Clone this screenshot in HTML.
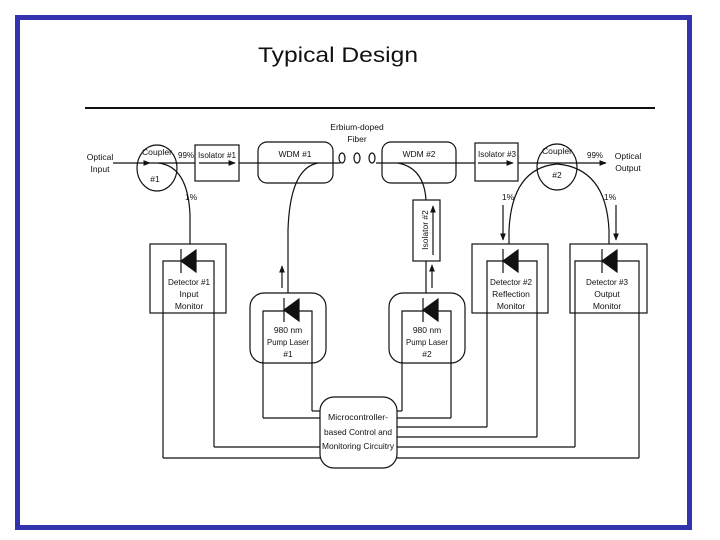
<!DOCTYPE html>
<html><head><meta charset="utf-8"><style>
html,body{margin:0;padding:0;background:#fff;width:720px;height:540px;overflow:hidden}
svg{display:block}
text{font-family:"Liberation Sans",sans-serif;fill:#111}
</style></head><body>
<svg width="720" height="540" viewBox="0 0 720 540" xmlns="http://www.w3.org/2000/svg">
<defs>
<marker id="ah" viewBox="0 0 10 10" refX="9" refY="5" markerWidth="6" markerHeight="6" orient="auto"><path d="M0,1 L10,5 L0,9 z" fill="#111"/></marker>
</defs>
<rect x="17.5" y="17.5" width="672" height="510" fill="none" stroke="#3333b0" stroke-width="5"/>
<text x="338" y="62" font-size="21" text-anchor="middle" textLength="160" lengthAdjust="spacingAndGlyphs">Typical Design</text>
<line x1="85" y1="108" x2="655" y2="108" stroke="#111" stroke-width="2"/>
<g stroke="#111" fill="none" stroke-width="1.2">
<line x1="113" y1="163" x2="150" y2="163" marker-end="url(#ah)"/>
<line x1="150" y1="163" x2="340" y2="163"/>
<line x1="376" y1="163" x2="606" y2="163" marker-end="url(#ah)"/>
<ellipse cx="157" cy="168" rx="20" ry="23"/>
<path d="M158,163 Q188,166 190,215 L190,244"/>
<rect x="195" y="145" width="44" height="36" fill="#fff"/>
<line x1="199" y1="163" x2="235" y2="163" marker-end="url(#ah)"/>
<rect x="258" y="142" width="75" height="41" rx="9"/>
<path d="M318,163 Q290,168 288,230 L288,293"/>
<line x1="282" y1="288" x2="282" y2="266" marker-end="url(#ah)"/>
<ellipse cx="342" cy="158" rx="3" ry="5"/>
<ellipse cx="357" cy="158" rx="3" ry="5"/>
<ellipse cx="372" cy="158" rx="3" ry="5"/>
<rect x="382" y="142" width="74" height="41" rx="9"/>
<path d="M398,163 Q424,168 426,200"/>
<rect x="413" y="200" width="27" height="61"/>
<line x1="433" y1="255" x2="433" y2="206" marker-end="url(#ah)"/>
<line x1="426" y1="261" x2="426" y2="293"/>
<line x1="432" y1="288" x2="432" y2="265" marker-end="url(#ah)"/>
<rect x="475" y="143" width="43" height="38" fill="#fff"/>
<line x1="478" y1="163" x2="513" y2="163" marker-end="url(#ah)"/>
<ellipse cx="557" cy="167" rx="20" ry="23"/>
<path d="M557,164 Q512,168 509,230 L509,244"/>
<path d="M557,164 Q606,168 609,230 L609,244"/>
<line x1="503" y1="205" x2="503" y2="240" marker-end="url(#ah)"/>
<line x1="616" y1="205" x2="616" y2="240" marker-end="url(#ah)"/>
<rect x="150" y="244" width="76" height="69"/>
<polyline points="163,458 163,261 214,261 214,447"/>
<rect x="472" y="244" width="76" height="69"/>
<polyline points="487,427 487,261 537,261 537,437"/>
<rect x="570" y="244" width="77" height="69"/>
<polyline points="575,447 575,261 639,261 639,458"/>
<rect x="250" y="293" width="76" height="70" rx="14"/>
<polyline points="263,418 263,311 312,311 312,411"/>
<rect x="389" y="293" width="76" height="70" rx="14"/>
<polyline points="402,411 402,311 451,311 451,418"/>
<rect x="320" y="397" width="77" height="71" rx="14" fill="#fff"/>
<line x1="163" y1="458" x2="320" y2="458"/>
<line x1="214" y1="447" x2="320" y2="447"/>
<line x1="263" y1="418" x2="320" y2="418"/>
<line x1="312" y1="411" x2="320" y2="411"/>
<line x1="402" y1="411" x2="397" y2="411"/>
<line x1="451" y1="418" x2="397" y2="418"/>
<line x1="487" y1="427" x2="397" y2="427"/>
<line x1="537" y1="437" x2="397" y2="437"/>
<line x1="575" y1="447" x2="397" y2="447"/>
<line x1="639" y1="458" x2="397" y2="458"/>
</g>
<g fill="#111" stroke="#111" stroke-width="1.2">
<path d="M196,250 L196,272 L181,261 z"/><line x1="181" y1="249" x2="181" y2="273"/>
<path d="M518,250 L518,272 L503,261 z"/><line x1="503" y1="249" x2="503" y2="273"/>
<path d="M617,250 L617,272 L602,261 z"/><line x1="602" y1="249" x2="602" y2="273"/>
<path d="M299,299 L299,321 L284,310 z"/><line x1="284" y1="298" x2="284" y2="322"/>
<path d="M438,299 L438,321 L423,310 z"/><line x1="423" y1="298" x2="423" y2="322"/>
</g>
<g font-size="8.5" text-anchor="middle">
<text x="100" y="160">Optical</text><text x="100" y="172">Input</text>
<text x="157" y="155" textLength="30" lengthAdjust="spacingAndGlyphs">Coupler</text><text x="155" y="182">#1</text>
<text x="186" y="158" textLength="16" lengthAdjust="spacingAndGlyphs">99%</text>
<text x="217" y="158" textLength="38" lengthAdjust="spacingAndGlyphs">Isolator #1</text>
<text x="295" y="157">WDM #1</text>
<text x="357" y="130">Erbium-doped</text><text x="357" y="142">Fiber</text>
<text x="419" y="157">WDM #2</text>
<text x="497" y="157" textLength="38" lengthAdjust="spacingAndGlyphs">Isolator #3</text>
<text x="557" y="154" textLength="30" lengthAdjust="spacingAndGlyphs">Coupler</text><text x="557" y="178">#2</text>
<text x="595" y="158" textLength="16" lengthAdjust="spacingAndGlyphs">99%</text>
<text x="628" y="159">Optical</text><text x="628" y="171">Output</text>
<text x="191" y="200">1%</text>
<text x="508" y="200">1%</text>
<text x="610" y="200">1%</text>
<text x="189" y="285" textLength="42" lengthAdjust="spacingAndGlyphs">Detector #1</text><text x="189" y="297">Input</text><text x="189" y="309">Monitor</text>
<text x="511" y="285" textLength="42" lengthAdjust="spacingAndGlyphs">Detector #2</text><text x="511" y="297">Reflection</text><text x="511" y="309">Monitor</text>
<text x="607" y="285" textLength="42" lengthAdjust="spacingAndGlyphs">Detector #3</text><text x="607" y="297">Output</text><text x="607" y="309">Monitor</text>
<text x="288" y="333">980 nm</text><text x="288" y="345" textLength="42" lengthAdjust="spacingAndGlyphs">Pump Laser</text><text x="288" y="357">#1</text>
<text x="427" y="333">980 nm</text><text x="427" y="345" textLength="42" lengthAdjust="spacingAndGlyphs">Pump Laser</text><text x="427" y="357">#2</text>
<text x="358" y="420" textLength="60" lengthAdjust="spacingAndGlyphs">Microcontroller-</text><text x="358" y="435" textLength="68" lengthAdjust="spacingAndGlyphs">based Control and</text><text x="358" y="449" textLength="72" lengthAdjust="spacingAndGlyphs">Monitoring Circuitry</text>
<text x="0" y="0" transform="translate(428,230) rotate(-90)">Isolator #2</text>
</g>
</svg>
</body></html>
